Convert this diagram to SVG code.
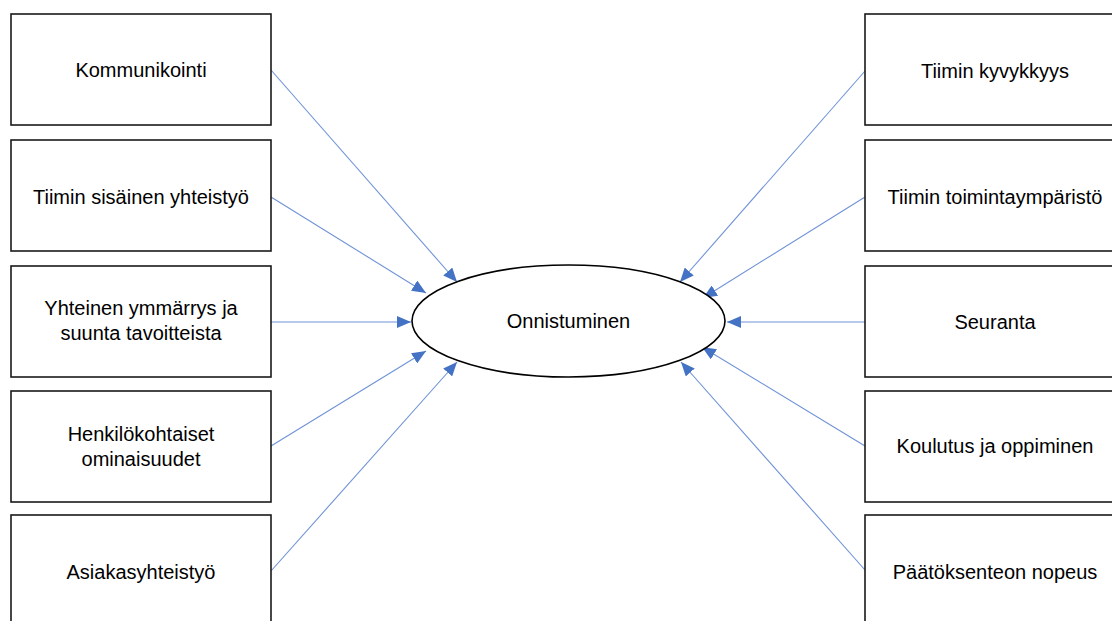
<svg xmlns="http://www.w3.org/2000/svg" width="1112" height="621" viewBox="0 0 1112 621">
<style>
.box{fill:#fff;stroke:#1a1a1a;stroke-width:1.6}
.lbl{font-family:"Liberation Sans",Arial,sans-serif;font-size:20px;fill:#000;text-anchor:middle}
.conn{stroke:#6f93d6;stroke-width:1.1;fill:none;marker-end:url(#ah)}
</style>
<defs>
<marker id="ah" markerUnits="userSpaceOnUse" markerWidth="14" markerHeight="12" viewBox="0 0 14 12" refX="14" refY="6" orient="auto">
<path d="M0,0 L14,6 L0,12 Z" fill="#4472C4"/>
</marker>
</defs>
<rect width="1112" height="621" fill="#fff"/>
<g id="connectors">
<line class="conn" x1="271" y1="70" x2="457" y2="282"/>
<line class="conn" x1="271" y1="197" x2="426" y2="293"/>
<line class="conn" x1="271" y1="322" x2="411" y2="322"/>
<line class="conn" x1="271" y1="446" x2="426" y2="351"/>
<line class="conn" x1="271" y1="571" x2="457" y2="362"/>
<line class="conn" x1="865" y1="71" x2="680" y2="282"/>
<line class="conn" x1="865" y1="197" x2="703" y2="298"/>
<line class="conn" x1="865" y1="322" x2="727" y2="322"/>
<line class="conn" x1="865" y1="446" x2="702" y2="347"/>
<line class="conn" x1="865" y1="570" x2="681" y2="362"/>
</g>
<g id="onnistuminen">
<ellipse cx="568.5" cy="321" rx="156.5" ry="56" fill="#fff" stroke="#000" stroke-width="1.6"/>
<text class="lbl" x="568.5" y="328">Onnistuminen</text>
</g>
<g id="kommunikointi">
<rect class="box" x="11" y="14" width="260" height="111"/>
<text class="lbl" x="141" y="77">Kommunikointi</text>
</g>
<g id="sisainen-yhteistyo">
<rect class="box" x="11" y="140" width="260" height="111"/>
<text class="lbl" x="141" y="204">Tiimin sisäinen yhteistyö</text>
</g>
<g id="yhteinen-ymmarrys">
<rect class="box" x="11" y="266" width="260" height="111"/>
<text class="lbl" x="141" y="315">Yhteinen ymmärrys ja</text>
<text class="lbl" x="141" y="340">suunta tavoitteista</text>
</g>
<g id="henkilokohtaiset">
<rect class="box" x="11" y="391" width="260" height="111"/>
<text class="lbl" x="141" y="441">Henkilökohtaiset</text>
<text class="lbl" x="141" y="466">ominaisuudet</text>
</g>
<g id="asiakasyhteistyo">
<rect class="box" x="11" y="515" width="260" height="111"/>
<text class="lbl" x="141" y="579">Asiakasyhteistyö</text>
</g>
<g id="kyvykkyys">
<rect class="box" x="865" y="14" width="260" height="111"/>
<text class="lbl" x="995" y="78">Tiimin kyvykkyys</text>
</g>
<g id="toimintaymparisto">
<rect class="box" x="865" y="140" width="260" height="111"/>
<text class="lbl" x="995" y="204">Tiimin toimintaympäristö</text>
</g>
<g id="seuranta">
<rect class="box" x="865" y="266" width="260" height="111"/>
<text class="lbl" x="995" y="329">Seuranta</text>
</g>
<g id="koulutus">
<rect class="box" x="865" y="391" width="260" height="111"/>
<text class="lbl" x="995" y="453">Koulutus ja oppiminen</text>
</g>
<g id="paatoksenteon-nopeus">
<rect class="box" x="865" y="515" width="260" height="111"/>
<text class="lbl" x="995" y="579">Päätöksenteon nopeus</text>
</g>
</svg>
